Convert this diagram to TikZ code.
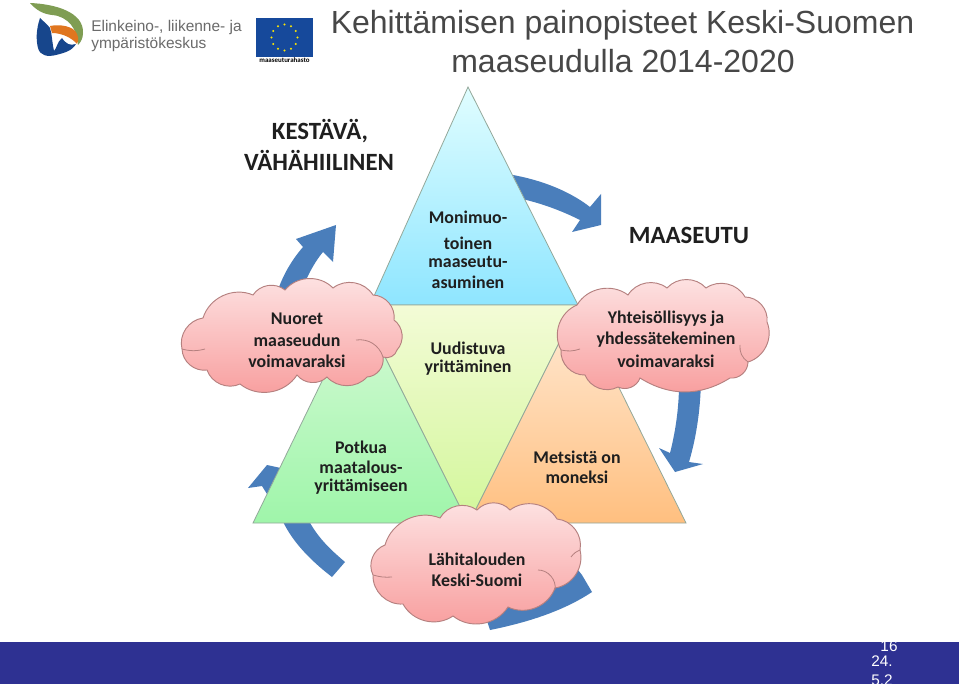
\documentclass[tikz,border=0pt]{standalone}
\usepackage{fontspec}
\setmainfont{Carlito}
\newfontfamily\arialf{Liberation Sans}
\definecolor{arrowblue}{HTML}{4A7EBB}
\definecolor{cloudedge}{HTML}{B5807F}
\definecolor{triedge}{HTML}{93A89A}
\definecolor{footer}{HTML}{2E3192}
\definecolor{cloudtop}{HTML}{FDE3E3}
\definecolor{cloudbottom}{HTML}{F89D9D}
\definecolor{lgreen}{HTML}{7F9D53}
\definecolor{lorange}{HTML}{E0761F}
\definecolor{lblue}{HTML}{17468C}
\definecolor{flagblue}{HTML}{16499B}
\definecolor{midtop}{HTML}{F3FBD6}
\definecolor{midbottom}{HTML}{D2F79A}
\definecolor{greentop}{HTML}{D6FAD6}
\definecolor{greenbottom}{HTML}{9FF5AA}
\tikzset{
  x=.75pt,y=-.75pt,
  bp/.style={bend left=#1},
  bp/.default=48,
  cloudshape/.style={draw=cloudedge,line width=.7pt,top color=cloudtop,bottom color=cloudbottom},
  crease/.style={draw=cloudedge,line width=.6pt},
  tri/.style={draw=triedge,line width=.6pt},
  arrowshape/.style={fill=arrowblue},
  lab/.style={font=\fontsize{13.4pt}{15pt}\bfseries\selectfont,text=black!88,inner sep=0pt,anchor=center},
  head/.style={font=\fontsize{18.6pt}{20pt}\bfseries\selectfont,text=black!88,inner sep=0pt,anchor=center},
  titletext/.style={font=\arialf\fontsize{24pt}{27pt}\selectfont,text=black!72,inner sep=0pt,anchor=center},
  logotext/.style={font=\arialf\fontsize{11.6pt}{13pt}\selectfont,text=black!58,inner sep=0pt,anchor=west},
  foot/.style={font=\arialf\fontsize{11.5pt}{13pt}\selectfont,text=white,inner sep=0pt,anchor=center}
}
\begin{document}
\begin{tikzpicture}
\useasboundingbox (0,0) rectangle (959,684);
\clip (0,0) rectangle (959,684);
\fill[white] (0,0) rectangle (959,684);

% logo
\fill[lgreen] (30,3) .. controls (55,4) and (84,12) .. (83,33) .. controls (83,38) and (81,42) .. (78,45) .. controls (78,30) and (68,16) .. (52,15) .. controls (43,14) and (36,10) .. (30,3) -- cycle;
\fill[lblue] (40,18) .. controls (36,30) and (36,40) .. (38,48) .. controls (40,56) and (48,57) .. (56,55) .. controls (64,53) and (72,51) .. (76,44) .. controls (70,46) and (66,44) .. (62,38) .. controls (57,42) and (57,48) .. (54,51) .. controls (52,42) and (52,34) .. (50,28) .. controls (47,24) and (43,21) .. (40,18) -- cycle;
\fill[lorange] (50,26) .. controls (60,24) and (74,26) .. (77,34) .. controls (79,38) and (78,42) .. (77,44) .. controls (72,38) and (62,33) .. (52,33) -- cycle;
\node[logotext] (logoa) at (91,28) {Elinkeino-, liikenne- ja};
\node[logotext] (logob) at (91,45) {ympäristökeskus};
\fill[flagblue] (256,18) rectangle (313,57);
\foreach \a in {0,30,...,330}
  \fill[yellow!90!orange,shift={(284.5,37.5)}] (\a:13) circle[radius=1.1];
\node[inner sep=0pt,text=black,font=\bfseries\fontsize{5.2pt}{6pt}\selectfont] (fund) at (284.5,60) {maaseuturahasto};

% title
\node[titletext] (t1) at (622.5,25) {Kehittämisen painopisteet Keski-Suomen};
\node[titletext] (t2) at (623,61) {maaseudulla 2014-2020};

% arrows
\fill[arrowshape] (513,175) .. controls (540,180) and (568,190) .. (590,207) -- (601,194) -- (601,225) -- (572,232) -- (580,220) .. controls (560,210) and (540,203) .. (522,199) -- cycle;
\fill[arrowshape] (701,375) .. controls (701,405) and (697,435) .. (689,462) -- (703,464) -- (675,472) -- (659,448) -- (670,453) .. controls (676,430) and (679,405) .. (679,385) -- cycle;
\fill[arrowshape] (570,560) -- (582,575) -- (592,592) .. controls (565,610) and (530,622) .. (490,630) -- (480,600) -- cycle;
\fill[arrowshape] (345,562) -- (332,577) .. controls (310,560) and (290,540) .. (280,515) -- (262,486) -- (248,488) -- (267,465) -- (290,470) -- (300,500) .. controls (310,530) and (325,545) .. cycle;
\fill[arrowshape] (275,300) .. controls (280,280) and (290,262) .. (303,247) -- (296,239) -- (336,225) -- (333,262) -- (323,252) .. controls (312,265) and (303,285) .. (298,300) -- cycle;

% triangles
\shade[tri,top color=blue!5!cyan!12!white,bottom color=cyan!38!white!90!blue] (468,87) -- (578,305) -- (370,305) -- cycle;
\shade[tri,top color=midtop,bottom color=midbottom] (359,305) -- (578,305) -- (468.5,524) -- cycle;
\shade[tri,top color=greentop,bottom color=greenbottom] (359,305) -- (468,523) -- (253,523) -- cycle;
\shade[tri,top color=orange!16!white,bottom color=orange!50!white] (578,305) -- (686,523) -- (469,523) -- cycle;

% clouds
\shade[cloudshape] (203,318) to[bp] (253,295) to[bp] (285,290) to[bp] (333,288) to[bp] (373,295) to[bp] (394,320) to[bp] (397,350) to[bp] (383,357) to[bp] (367,377) to[bp] (327,377) to[bp] (297,375) to[bp] (240,384) to[bp] (207,370) to[bp] (182,349) to[bp] (203,318) -- cycle;
\shade[cloudshape] (577,305) to[bp] (628,295) to[bp] (667,288) to[bp] (706,288) to[bp] (745,297) to[bp] (767,322) to[bp] (748,362) to[bp] (730,378) to[bp=32] (640,378) to[bp] (618,387) to[bp] (585,375) to[bp] (561,350) to[bp] (577,305) -- cycle;
\begin{scope}
\clip (300,490) rectangle (620,624);
\shade[cloudshape] (385,545) to[bp] (440,518) to[bp] (477,510) to[bp] (510,510) to[bp] (557,519) to[bp] (580,550) to[bp] (555,588) to[bp] (508,607) to[bp] (453,616) to[bp] (403,604) to[bp] (373,575) to[bp] (385,545) -- cycle;
\end{scope}
% creases
\draw[crease] (182,349) to[bend right=15] (205,349);
\draw[crease] (356,340) to[bend left=40] (383,357);
\draw[crease] (740,345) to[bend right=30] (748,362);
\draw[crease] (561,350) to[bend right=15] (580,349);
\draw[crease] (538,570) to[bend left=50] (555,590);
\draw[crease] (373,575) to[bend right=10] (392,577);
\draw[crease] (580,550) to[bend right=15] (571,557);

% labels
\node[head] (k1) at (320,131) {KESTÄVÄ,};
\node[head] (k2) at (319,160) {VÄHÄHIILINEN};
\node[head] (m0) at (689,235) {MAASEUTU};
\node[lab] (a1) at (468,217) {Monimuo-};
\node[lab] (a2) at (468,243) {toinen};
\node[lab] (a3) at (468,262) {maaseutu-};
\node[lab] (a4) at (468,282) {asuminen};
\node[lab] (b1) at (468,348) {Uudistuva};
\node[lab] (b2) at (468,368) {yrittäminen};
\node[lab] (c1) at (297,319) {Nuoret};
\node[lab] (c2) at (297,340) {maaseudun};
\node[lab] (c3) at (297,361) {voimavaraksi};
\node[lab] (d1) at (666,319) {Yhteisöllisyys ja};
\node[lab] (d2) at (666,340) {yhdessätekeminen};
\node[lab] (d3) at (666,361) {voimavaraksi};
\node[lab] (e1) at (361,447) {Potkua};
\node[lab] (e2) at (361,467) {maatalous-};
\node[lab] (e3) at (361,487) {yrittämiseen};
\node[lab] (f1) at (577,457) {Metsistä on};
\node[lab] (f2) at (577,477) {moneksi};
\node[lab] (g1) at (477,559) {Lähitalouden};
\node[lab] (g2) at (477,580) {Keski-Suomi};

% footer
\fill[footer] (0,642) rectangle (959,684);
\node[foot] (p1) at (889,646) {16};
\node[foot] (p2) at (882,661) {24.};
\node[foot] (p3) at (882,680) {5.2};
\end{tikzpicture}
\end{document}
